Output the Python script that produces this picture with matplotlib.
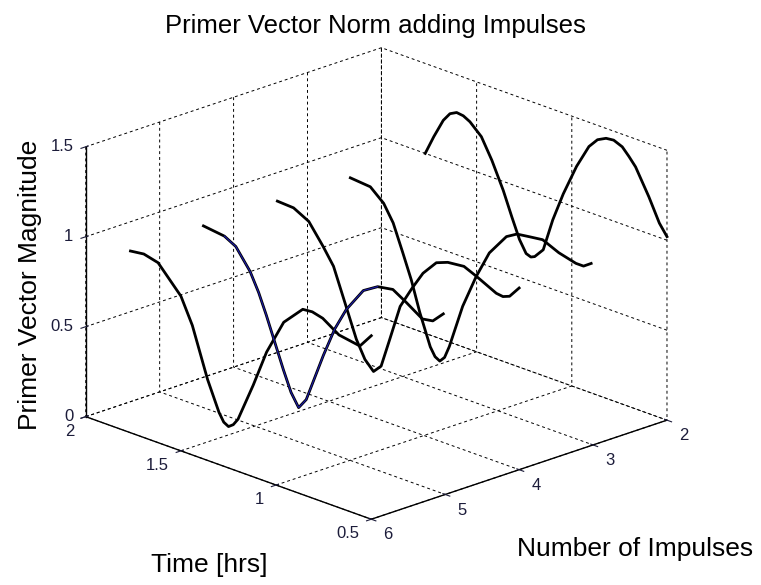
import matplotlib
matplotlib.use('Agg')
import matplotlib.pyplot as plt

plt.rcParams['font.family'] = ['Liberation Sans', 'DejaVu Sans']
plt.rcParams['grid.color'] = 'black'
plt.rcParams['grid.linestyle'] = (0, (3, 3))
plt.rcParams['grid.linewidth'] = 0.7

# primer vector norm along the transfer, one trace per impulse count
nImpulses = [2, 3, 4, 5, 6]

time2 = [1.77, 1.725, 1.675, 1.64, 1.605, 1.57, 1.535, 1.475, 1.42, 1.36,
         1.315, 1.275, 1.24, 1.215, 1.195, 1.15, 1.10, 1.045, 0.975, 0.91,
         0.865, 0.82, 0.78, 0.735, 0.70, 0.665, 0.595, 0.54, 0.50]
norm2 = [1.00, 1.11, 1.22, 1.27, 1.29, 1.285, 1.265, 1.205, 1.095, 0.95,
         0.82, 0.71, 0.645, 0.635, 0.645, 0.70, 0.885, 1.05, 1.23, 1.365,
         1.42, 1.445, 1.45, 1.43, 1.39, 1.345, 1.205, 1.08, 1.02]

time3 = [1.775, 1.67, 1.60, 1.55, 1.50, 1.455, 1.41, 1.355, 1.33, 1.305,
         1.28, 1.255, 1.185, 1.115, 1.045, 0.955, 0.90, 0.835, 0.765, 0.68,
         0.59, 0.55, 0.51]
norm3 = [1.00, 0.99, 0.925, 0.835, 0.69, 0.555, 0.39, 0.22, 0.175, 0.16,
         0.19, 0.26, 0.51, 0.70, 0.86, 0.985, 1.02, 1.03, 1.04, 1.00,
         0.975, 0.975, 1.005]

time4 = [1.77, 1.685, 1.605, 1.53, 1.475, 1.425, 1.405, 1.355, 1.31, 1.265,
         1.225, 1.18, 1.125, 1.065, 1.005, 0.935, 0.875, 0.79, 0.725, 0.62,
         0.585, 0.55, 0.50]
norm4 = [1.01, 1.005, 0.96, 0.85, 0.76, 0.61, 0.55, 0.40, 0.305, 0.255,
         0.30, 0.465, 0.67, 0.79, 0.90, 0.985, 1.01, 1.02, 0.99, 0.935,
         0.93, 0.945, 1.01]

time5 = [1.77, 1.66, 1.60, 1.525, 1.48, 1.44, 1.40, 1.35, 1.31, 1.27, 1.23,
         1.14, 1.08, 1.02, 0.93, 0.855, 0.775, 0.705, 0.62, 0.565, 0.51]
norm5 = [1.01, 0.995, 0.96, 0.85, 0.75, 0.64, 0.52, 0.37, 0.26, 0.19, 0.25,
         0.53, 0.70, 0.83, 0.97, 1.02, 1.035, 0.99, 0.93, 0.94, 1.00]

time6 = [1.765, 1.695, 1.62, 1.50, 1.44, 1.36, 1.30, 1.275, 1.25, 1.225,
         1.20, 1.12, 1.05, 0.96, 0.86, 0.81, 0.755, 0.67, 0.56, 0.50]
norm6 = [1.01, 1.02, 1.00, 0.86, 0.72, 0.45, 0.29, 0.245, 0.23, 0.25,
         0.29, 0.51, 0.72, 0.92, 1.03, 1.035, 1.02, 0.96, 0.94, 1.02]

times = [time2, time3, time4, time5, time6]
norms = [norm2, norm3, norm4, norm5, norm6]

# stretch of the 5-impulse trace that carries the blue overlay
blueStart, blueStop = 1, 16

timeTicks = [0.5, 1, 1.5, 2]
timeLabels = ['0.5', '1', '1.5', '2']
impulseTicks = [2, 3, 4, 5, 6]
impulseLabels = ['2', '3', '4', '5', '6']
normTicks = [0, 0.5, 1, 1.5]
normLabels = ['0', '0.5', '1', '1.5']

fig = plt.figure(figsize=(7.61, 5.85), dpi=100)
ax = fig.add_axes([-0.015, 0.043, 1.0, 0.92], projection='3d',
                  proj_type='ortho')
ax.view_init(elev=20.3, azim=136)
ax.set_box_aspect((1, 1, 0.7), zoom=1.17)

for n, t, p in zip(nImpulses, times, norms):
    ax.plot(t, [n]*len(t), p, color='black', linewidth=2.0, clip_on=False)

t5 = time5[blueStart:blueStop]
ax.plot(t5, [5]*len(t5), norm5[blueStart:blueStop], color='#1c1caa',
        linewidth=0.8, clip_on=False)

ax.set_xlim(0.5, 2)
ax.set_ylim(2, 6)
ax.set_zlim(0, 1.5)
ax.set_xticks(timeTicks)
ax.set_xticklabels(timeLabels, ha='right', va='center')
ax.set_yticks(impulseTicks)
ax.set_yticklabels(impulseLabels, ha='left', va='center')
ax.set_zticks(normTicks)
ax.set_zticklabels(normLabels, ha='right', va='center')
ax.zaxis.set_ticks_position('upper')

for axis in (ax.xaxis, ax.yaxis, ax.zaxis):
    axis.set_pane_color((1, 1, 1, 0))
    axis.pane.set_edgecolor('none')
    axis.line.set_color('black')
    axis.line.set_linewidth(1.0)
    axis.set_tick_params(labelsize=12, colors='#1c1c3a')
ax.xaxis.set_tick_params(pad=0)
ax.yaxis.set_tick_params(pad=0.5)
ax.zaxis.set_tick_params(pad=-3.7)

fig.text(0.4928, 0.9556, 'Primer Vector Norm adding Impulses',
         fontsize=18.5, ha='center', va='center')
fig.text(0.275, 0.034, 'Time [hrs]', fontsize=19, ha='center', va='center')
fig.text(0.835, 0.062, 'Number of Impulses', fontsize=19,
         ha='center', va='center')
fig.text(0.04, 0.513, 'Primer Vector Magnitude', fontsize=19, rotation=90,
         ha='center', va='center')

fig.savefig('out.png', dpi=100)
